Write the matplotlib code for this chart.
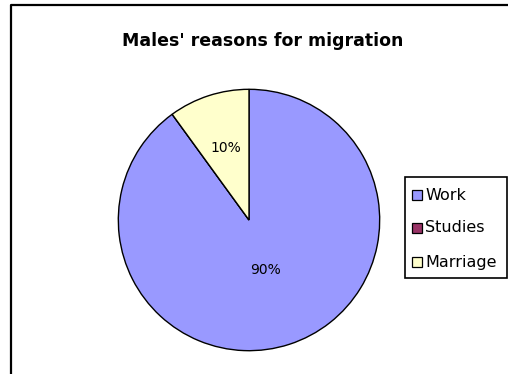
import matplotlib
matplotlib.use("Agg")
import matplotlib.pyplot as plt
from matplotlib.lines import Line2D
from matplotlib.patches import Rectangle
import numpy as np

plt.rcParams['font.family'] = ['DejaVu Sans']

title = "Males' reasons for migration"
categories = ["Work", "Studies", "Marriage"]
shares = [90, 0, 10]
colors = ["#9999FF", "#993366", "#FFFFCC"]
label_dist = [0.40, 0.0, 0.58]

W, H, DPI = 508, 374, 100
fig = plt.figure(figsize=(W / DPI, H / DPI), dpi=DPI)
fig.patch.set_facecolor("white")


def fx(px):
    return px / W


def fy(py):
    return 1 - py / H


# chart-area border (top and left edges visible)
fig.add_artist(Line2D([fx(11), fx(11), 1.0], [0.0, fy(5), fy(5)],
                      transform=fig.transFigure, color="black", lw=1.6))

cx, cy, r = 249, 220, 132
ax = fig.add_axes([fx(cx - r), fy(cy + r), 2 * r / W, 2 * r / H])
wedges, _ = ax.pie(shares, colors=colors, startangle=90, counterclock=False,
                   radius=1.0, wedgeprops=dict(edgecolor="black", linewidth=1.0))
ax.set_xlim(-1.01, 1.01)
ax.set_ylim(-1.01, 1.01)
ax.set_aspect("equal")
ax.axis("off")

total = sum(shares)
for w, v, d in zip(wedges, shares, label_dist):
    if v == 0:
        continue
    ang = np.deg2rad((w.theta1 + w.theta2) / 2)
    ax.text(d * np.cos(ang), d * np.sin(ang), f"{v / total * 100:.0f}%",
            ha="center", va="center", fontsize=10, color="black")

fig.text(fx(263), fy(41), title, ha="center", va="center",
         fontsize=12.5, fontweight="bold")

# legend box with square keys
box_l, box_t, box_r, box_b = 405, 177, 507, 278
fig.add_artist(Rectangle((fx(box_l), fy(box_b)), (box_r - box_l) / W,
                         (box_b - box_t) / H, transform=fig.transFigure,
                         facecolor="white", edgecolor="black", lw=1.2))
row_y = [195, 228, 262]
key = 10
for name, c, y in zip(categories, colors, row_y):
    fig.add_artist(Rectangle((fx(412), fy(y + key / 2)), key / W, key / H,
                             transform=fig.transFigure, facecolor=c,
                             edgecolor="black", lw=0.9))
    fig.text(fx(425), fy(y), name, ha="left", va="center", fontsize=11.5)

fig.savefig("out.png", dpi=DPI, facecolor="white")
